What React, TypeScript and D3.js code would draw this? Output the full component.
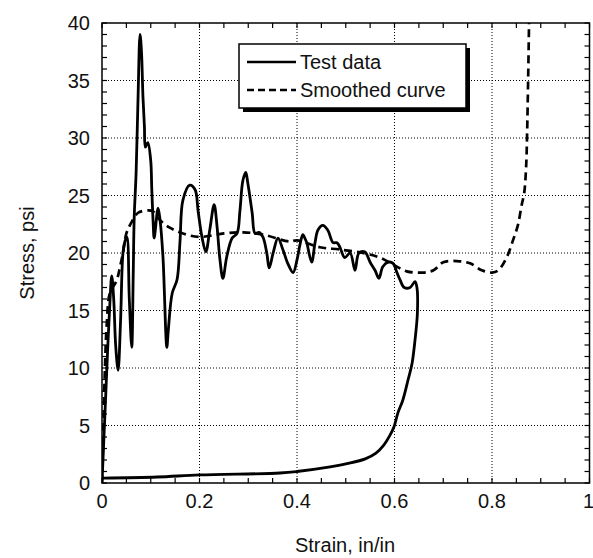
import React from "react";
import * as d3 from "d3";

const testStrain = [0, 0.004, 0.008, 0.012, 0.016, 0.02, 0.024, 0.028, 0.033, 0.038, 0.043, 0.047, 0.051, 0.056, 0.061, 0.064, 0.066, 0.07, 0.074, 0.078, 0.081, 0.084, 0.087, 0.089, 0.094, 0.1, 0.102, 0.105, 0.107, 0.115, 0.119, 0.125, 0.133, 0.136, 0.144, 0.154, 0.16, 0.166, 0.18, 0.191, 0.197, 0.205, 0.213, 0.221, 0.23, 0.236, 0.242, 0.248, 0.256, 0.267, 0.277, 0.283, 0.289, 0.295, 0.299, 0.308, 0.314, 0.322, 0.33, 0.338, 0.343, 0.351, 0.361, 0.371, 0.381, 0.392, 0.4, 0.406, 0.412, 0.417, 0.42, 0.43, 0.437, 0.443, 0.453, 0.463, 0.474, 0.482, 0.488, 0.498, 0.509, 0.519, 0.527, 0.539, 0.55, 0.56, 0.568, 0.576, 0.587, 0.597, 0.605, 0.611, 0.62, 0.632, 0.642, 0.646, 0.647, 0.642, 0.636, 0.628, 0.617, 0.607, 0.599, 0.59, 0.578, 0.562, 0.54, 0.505, 0.468, 0.4, 0.365, 0.2, 0.113, 0.002];
const testStress = [0, 4, 8, 12, 15.5, 18, 16, 12, 9.8, 14, 20, 21, 21.4, 16, 11.8, 18, 23, 27, 33.6, 39, 37.5, 33.6, 31, 29.2, 29.6, 28, 25.7, 22.6, 21.3, 23.9, 22.9, 19.7, 11.8, 13.3, 16.5, 17.7, 21, 24.6, 25.9, 25.5, 23.7, 21.4, 20.1, 22, 24.2, 22.3, 19.4, 17.8, 19.7, 21.3, 21.7, 23.7, 26.3, 27, 26.1, 23.5, 21.7, 21.8, 21.4, 20, 18.7, 20, 21.3, 20.3, 19.1, 18.3, 19.4, 20.7, 21.6, 21.2, 20.9, 19.2, 20.9, 22, 22.4, 22, 20.9, 20.9, 20.5, 19.6, 20, 18.5, 20, 20.1, 19.2, 18.5, 17.8, 18.8, 19.2, 19.1, 18.3, 17.7, 17, 17, 17.5, 17, 14.8, 12.4, 10.4, 9, 7.2, 6.1, 4.9, 4.1, 3.3, 2.6, 2.1, 1.7, 1.4, 1.0, 0.87, 0.7, 0.52, 0.43];

const smoothStrain = [0, 0.003, 0.006, 0.01, 0.016, 0.03, 0.037, 0.043, 0.05, 0.061, 0.074, 0.095, 0.105, 0.118, 0.139, 0.166, 0.2, 0.25, 0.29, 0.33, 0.385, 0.4, 0.447, 0.488, 0.535, 0.57, 0.597, 0.625, 0.658, 0.68, 0.7, 0.728, 0.755, 0.779, 0.8, 0.813, 0.831, 0.843, 0.853, 0.861, 0.866, 0.87, 0.872, 0.874, 0.876];
const smoothStress = [0, 5, 10, 14, 16.5, 17.6, 18.8, 20, 21.7, 22.7, 23.5, 23.7, 23.6, 22.9, 22.2, 21.7, 21.4, 21.7, 21.8, 21.6, 21.0, 21.1, 20.5, 20.3, 20.0, 19.6, 19.0, 18.4, 18.3, 18.5, 19.2, 19.3, 19.1, 18.5, 18.3, 18.5, 19.7, 21.1, 22.4, 24.2, 25.2, 27.5, 30.4, 34.8, 40];

const xMajor = [0, 0.2, 0.4, 0.6, 0.8, 1];
const xLabels = ["0", "0.2", "0.4", "0.6", "0.8", "1"];
const yMajor = [0, 5, 10, 15, 20, 25, 30, 35, 40];
const legendLabels = ["Test data", "Smoothed curve"];

export default function App() {
  const W = 593, H = 558;
  const L = 102, R = 589.5, T = 23, B = 483;
  const x = d3.scaleLinear().domain([0, 1]).range([L, R]);
  const y = d3.scaleLinear().domain([0, 40]).range([B, T]);
  const line = d3.line<[number, number]>().x(d => x(d[0])).y(d => y(d[1])).curve(d3.curveCatmullRom.alpha(0.5));
  const testPts: [number, number][] = testStrain.map((v, i) => [v, testStress[i]]);
  const smoothPts: [number, number][] = smoothStrain.map((v, i) => [v, smoothStress[i]]);
  const xMinor = d3.range(0, 1.0001, 0.05);
  const yMinor = d3.range(0, 40.0001, 1);
  const font = "Liberation Sans, Arial, Helvetica, sans-serif";
  const tl = 5;
  return (
    <svg width={W} height={H} style={{ position: "absolute", left: 0, top: 0, background: "#fff" }} fontFamily={font}>
      <defs>
        <clipPath id="plot"><rect x={L} y={T} width={R - L} height={B - T} /></clipPath>
      </defs>
      <rect x={0} y={0} width={W} height={H} fill="#fff" />
      {xMajor.slice(1, -1).map(v => (
        <line key={"gx" + v} x1={x(v)} x2={x(v)} y1={T} y2={B} stroke="#000" strokeWidth={1} strokeDasharray="1,2" />
      ))}
      {yMajor.slice(1, -1).map(v => (
        <line key={"gy" + v} x1={L} x2={R} y1={y(v)} y2={y(v)} stroke="#000" strokeWidth={1} strokeDasharray="1,2" />
      ))}
      {xMinor.map(v => (
        <g key={"tx" + v}>
          <line x1={x(v)} x2={x(v)} y1={B} y2={B - tl} stroke="#000" strokeWidth={1.2} />
          <line x1={x(v)} x2={x(v)} y1={T} y2={T + tl} stroke="#000" strokeWidth={1.2} />
        </g>
      ))}
      {yMinor.map(v => (
        <g key={"ty" + v}>
          <line x1={L} x2={L + tl} y1={y(v)} y2={y(v)} stroke="#000" strokeWidth={1.2} />
          <line x1={R} x2={R - tl} y1={y(v)} y2={y(v)} stroke="#000" strokeWidth={1.2} />
        </g>
      ))}
      <g clipPath="url(#plot)">
        <path d={line(smoothPts) || ""} fill="none" stroke="#000" strokeWidth={2.7} strokeDasharray="8,5" />
        <path d={line(testPts) || ""} fill="none" stroke="#000" strokeWidth={2.8} strokeLinejoin="round" />
      </g>
      <rect x={L} y={T} width={R - L} height={B - T} fill="none" stroke="#000" strokeWidth={1.5} />
      {xMajor.map((v, i) => (
        <text key={"lx" + v} x={i === xMajor.length - 1 ? x(v) - 1 : x(v)} y={508} textAnchor="middle" fontSize={20} fill="#111">{xLabels[i]}</text>
      ))}
      {yMajor.map(v => (
        <text key={"ly" + v} x={90} y={y(v) + 7} textAnchor="end" fontSize={20} fill="#111">{v}</text>
      ))}
      <text x={345} y={552} textAnchor="middle" fontSize={20} fill="#111">Strain, in/in</text>
      <text transform={`translate(34,${(T + B) / 2}) rotate(-90)`} textAnchor="middle" fontSize={20} fill="#111">Stress, psi</text>
      <rect x={243} y={48} width={227} height={64} fill="#000" />
      <rect x={239} y={44} width={227} height={64} fill="#fff" stroke="#000" strokeWidth={1.5} />
      <line x1={247} x2={296} y1={62} y2={62} stroke="#000" strokeWidth={2.5} />
      <text x={300} y={69} fontSize={20} fill="#111">{legendLabels[0]}</text>
      <line x1={247} x2={296} y1={90} y2={90} stroke="#000" strokeWidth={2.5} strokeDasharray="7,4" />
      <text x={300} y={97} fontSize={20} fill="#111">{legendLabels[1]}</text>
    </svg>
  );
}
